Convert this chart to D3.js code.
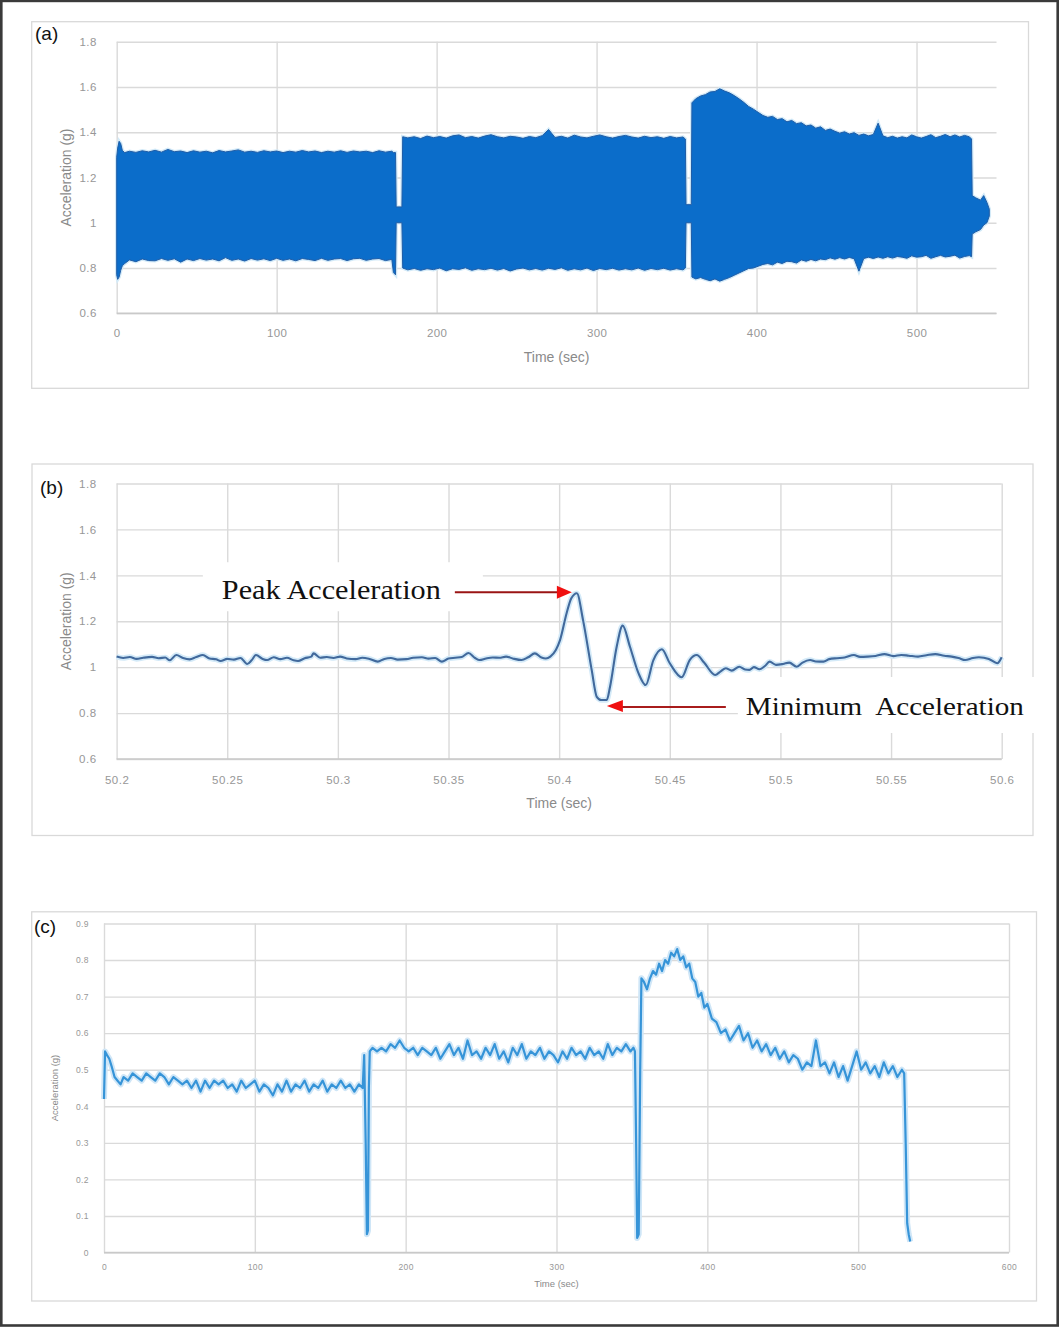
<!DOCTYPE html>
<html>
<head>
<meta charset="utf-8">
<script src="https://cdn.jsdelivr.net/npm/d3@7"></script>
<style>
  body { margin: 0; background: #fff; }
  svg { display: block; }
</style>
</head>
<body>
<div id="chart"></div>
<script>
const width = 1059, height = 1327;

// ---------- (a) envelope of the raw signal (upper / lower edge of the band) ----------
const aTime = [0, 0.6, 1.5, 2.5, 3.5, 5,
  8, 12, 16, 20, 24, 28, 32, 36, 40, 44, 48, 52, 56, 60, 64, 68, 72, 76, 80, 84, 88, 92, 96, 100,
  104, 108, 112, 116, 120, 124, 128, 132, 136, 140, 144, 148, 152, 156, 160, 164, 168, 172,
  173, 174.3, 174.7, 178.3, 178.8,
  182, 186, 190, 194, 198, 202, 206, 210, 214, 218, 222, 226, 230, 234, 238, 242, 246, 250, 254, 258,
  262, 266, 270, 274, 278, 282, 286, 290, 294, 298, 302, 306, 310, 314, 318, 322, 326, 330, 334, 338,
  342, 346, 350, 354,
  355.5, 355.9, 359.2, 359.6,
  362, 365, 368, 371, 374, 377, 380, 383, 386, 389, 392, 395, 398, 401, 404, 407, 410, 413, 416, 419,
  422, 425, 428, 431, 434, 437, 440, 443, 446, 449, 452, 455, 458, 461, 464, 467, 470, 473, 476, 479,
  482, 485, 488, 491, 494, 497, 500, 503, 506, 509, 512, 515, 518, 521, 524, 527, 530, 533,
  534.4, 534.8, 537, 540, 542, 544, 545.5];
const aHigh = [1.29, 1.33, 1.36, 1.35, 1.32, 1.31,
  1.316, 1.311, 1.318, 1.313, 1.320, 1.312, 1.324, 1.314, 1.317, 1.310, 1.318, 1.312, 1.316, 1.309,
  1.319, 1.313, 1.317, 1.322, 1.312, 1.316, 1.311, 1.318, 1.313, 1.317, 1.310, 1.316, 1.312, 1.319,
  1.313, 1.317, 1.310, 1.316, 1.312, 1.318, 1.311, 1.317, 1.313, 1.316, 1.310, 1.318, 1.312, 1.316,
  1.31, 1.31, 1.07, 1.07, 1.38,
  1.375, 1.380, 1.372, 1.383, 1.376, 1.381, 1.374, 1.384, 1.388, 1.376, 1.381, 1.374, 1.383, 1.389,
  1.380, 1.375, 1.382, 1.379, 1.373, 1.381, 1.376, 1.385, 1.412, 1.377, 1.382, 1.374, 1.387, 1.379,
  1.375, 1.382, 1.388, 1.380, 1.374, 1.381, 1.386, 1.379, 1.374, 1.382, 1.376, 1.380, 1.373, 1.381,
  1.375, 1.379,
  1.37, 1.08, 1.08, 1.53,
  1.548, 1.560, 1.566, 1.578, 1.580, 1.592, 1.582, 1.574, 1.562, 1.548, 1.532, 1.514, 1.502, 1.488,
  1.474, 1.466, 1.470, 1.456, 1.460, 1.446, 1.452, 1.438, 1.442, 1.428, 1.432, 1.418, 1.424, 1.408,
  1.414, 1.404, 1.396, 1.402, 1.392, 1.398, 1.386, 1.392, 1.384, 1.390, 1.440, 1.384, 1.376, 1.382,
  1.374, 1.380, 1.375, 1.388, 1.380, 1.374, 1.381, 1.389, 1.376, 1.382, 1.390, 1.380, 1.388, 1.379,
  1.386, 1.380,
  1.37, 1.12, 1.11, 1.10, 1.12, 1.09, 1.06];
const aLow = [0.77, 0.75, 0.76, 0.79, 0.81, 0.82,
  0.836, 0.828, 0.840, 0.833, 0.832, 0.842, 0.834, 0.841, 0.826, 0.840, 0.833, 0.842, 0.835, 0.840,
  0.832, 0.846, 0.834, 0.840, 0.831, 0.842, 0.835, 0.841, 0.833, 0.843, 0.834, 0.840, 0.832, 0.842,
  0.838, 0.833, 0.843, 0.834, 0.840, 0.842, 0.833, 0.841, 0.843, 0.834, 0.840, 0.842, 0.833, 0.838,
  0.78, 0.77, 1.00, 1.00, 0.80,
  0.792, 0.798, 0.790, 0.797, 0.793, 0.800, 0.788, 0.797, 0.794, 0.801, 0.790, 0.797, 0.793, 0.799,
  0.791, 0.798, 0.787, 0.796, 0.800, 0.792, 0.798, 0.791, 0.799, 0.794, 0.801, 0.790, 0.797, 0.792,
  0.800, 0.789, 0.798, 0.793, 0.799, 0.791, 0.797, 0.792, 0.800, 0.790, 0.798, 0.793, 0.799, 0.791,
  0.797, 0.792,
  0.80, 1.00, 1.00, 0.76,
  0.752, 0.758, 0.750, 0.744, 0.752, 0.742, 0.750, 0.758, 0.768, 0.778, 0.788, 0.798, 0.800, 0.808,
  0.816, 0.820, 0.814, 0.826, 0.820, 0.830, 0.828, 0.822, 0.836, 0.830, 0.838, 0.832, 0.840, 0.837,
  0.845, 0.839, 0.846, 0.840, 0.847, 0.841, 0.786, 0.842, 0.848, 0.842, 0.849, 0.843, 0.850, 0.844,
  0.851, 0.848, 0.843, 0.854, 0.848, 0.850, 0.856, 0.843, 0.850, 0.856, 0.849, 0.852, 0.857, 0.844,
  0.851, 0.855,
  0.85, 0.95, 0.96, 0.97, 0.99, 1.00, 1.03];
const aXTicks = [0, 100, 200, 300, 400, 500];
const aYTicks = [0.6, 0.8, 1, 1.2, 1.4, 1.6, 1.8];

// ---------- (b) zoom on one impact ----------
const bTime = [50.200, 50.203, 50.206, 50.209, 50.212, 50.216, 50.219, 50.222, 50.224, 50.227, 50.230, 50.233, 50.236,
  50.239, 50.242, 50.245, 50.247, 50.250, 50.253, 50.256, 50.259, 50.261, 50.263, 50.266, 50.268, 50.271, 50.274,
  50.277, 50.280, 50.282, 50.285, 50.288, 50.289, 50.292, 50.295, 50.298, 50.301, 50.304, 50.308, 50.311, 50.314,
  50.318, 50.321, 50.324, 50.327, 50.331, 50.334, 50.338, 50.341, 50.344, 50.347, 50.350, 50.353, 50.356, 50.359,
  50.362, 50.364, 50.367, 50.370, 50.373, 50.376, 50.379, 50.383, 50.386, 50.389, 50.392, 50.394, 50.396,
  50.3985, 50.4004, 50.4034, 50.4055, 50.408, 50.4108, 50.4147, 50.417, 50.419, 50.4215, 50.423, 50.426, 50.4287,
  50.432, 50.4358, 50.4391, 50.4426, 50.4464, 50.450, 50.4554, 50.459, 50.4622, 50.4655, 50.4705,
  50.473, 50.4753, 50.478, 50.4814, 50.484, 50.486, 50.488, 50.4905, 50.493, 50.4951, 50.498, 50.5012, 50.504,
  50.5073, 50.510, 50.5134, 50.516, 50.5195, 50.522, 50.5256, 50.529, 50.5332, 50.536, 50.5393, 50.543, 50.547,
  50.551, 50.5546, 50.558, 50.5622, 50.566, 50.570, 50.574, 50.5774, 50.5805, 50.5835, 50.587, 50.5897, 50.5942,
  50.598, 50.600];
const bAccel = [1.046, 1.040, 1.044, 1.036, 1.041, 1.045, 1.039, 1.042, 1.030, 1.053, 1.040, 1.034, 1.044,
  1.053, 1.038, 1.034, 1.027, 1.036, 1.033, 1.040, 1.014, 1.030, 1.053, 1.036, 1.031, 1.043, 1.035,
  1.041, 1.030, 1.027, 1.039, 1.046, 1.060, 1.041, 1.044, 1.040, 1.046, 1.038, 1.035, 1.041, 1.037,
  1.024, 1.036, 1.040, 1.033, 1.035, 1.041, 1.043, 1.037, 1.040, 1.024, 1.038, 1.041, 1.044, 1.062,
  1.040, 1.031, 1.038, 1.042, 1.041, 1.046, 1.038, 1.031, 1.043, 1.060, 1.042, 1.038, 1.046,
  1.075, 1.118, 1.236, 1.300, 1.322, 1.205, 0.988, 0.871, 0.857, 0.857, 0.915, 1.089, 1.181,
  1.089, 0.975, 0.922, 1.031, 1.078, 1.017, 0.956, 1.031, 1.053, 1.020, 0.966,
  0.982, 0.995, 0.985, 1.002, 0.990, 0.988, 1.000, 0.991, 1.005, 1.024, 1.010, 1.014, 1.020,
  1.002, 1.020, 1.031, 1.025, 1.024, 1.035, 1.039, 1.042, 1.053, 1.045, 1.046, 1.049, 1.057,
  1.048, 1.053, 1.050, 1.046, 1.052, 1.057, 1.050, 1.046, 1.040, 1.031, 1.040, 1.043, 1.036,
  1.017, 1.043];
const bXTicks = [50.2, 50.25, 50.3, 50.35, 50.4, 50.45, 50.5, 50.55, 50.6];
const bYTicks = [0.6, 0.8, 1, 1.2, 1.4, 1.6, 1.8];
const bNotes = [
  { label: "Peak Acceleration", t: 50.408, v: 1.322, side: "left" },
  { label: "Minimum  Acceleration", t: 50.4202, v: 0.857, side: "right" }
];

// ---------- (c) processed signal ----------
const cTime = [0, 0.7, 2, 3.5, 5, 7, 9, 11,
  13, 16, 19, 22, 25, 28, 31, 34, 37, 40, 43, 46, 49, 52, 55, 58, 61, 64, 67, 70,
  73, 76, 79, 82, 85, 88, 91, 94, 97, 100, 103, 106, 109, 112, 115, 118, 121, 124, 127, 130,
  133, 136, 139, 142, 145, 148, 151, 154, 157, 160, 163, 166, 169,
  171.5, 172.5, 173.5, 174.3, 175, 175.6, 176.2,
  178, 181, 184, 187, 190, 193, 196, 199, 202, 205, 208, 211, 214, 217, 220, 223, 226, 229, 232, 235,
  238, 241, 244, 247, 250, 253, 256, 259, 262, 265, 268, 271, 274, 277, 280, 283, 286, 289, 292, 295,
  298, 301, 304, 307, 310, 313, 316, 319, 322, 325, 328, 331, 334, 337, 340, 343, 346, 349,
  351, 352, 352.8, 353.5, 354.5, 355.5, 356.3,
  358, 360, 362, 364, 366, 368, 370, 372, 374, 376, 378, 380, 382, 384, 386, 388, 390, 392, 394, 396, 398, 400,
  403, 406, 409, 412, 415, 418, 421, 424, 427, 430, 433, 436, 439, 442, 445, 448, 451, 454, 457, 460,
  463, 466, 469, 472, 475, 478, 481, 484, 487, 490, 493, 496, 499, 502, 505, 508, 511, 514, 517, 520,
  523, 526, 529,
  530.5, 531.5, 532.5, 533.5, 534.5];
const cAccel = [0.42, 0.55, 0.54, 0.53, 0.51, 0.48, 0.47, 0.46,
  0.48, 0.47, 0.49, 0.48, 0.47, 0.49, 0.48, 0.47, 0.49, 0.48, 0.46, 0.48, 0.47, 0.46, 0.47, 0.45, 0.47, 0.44, 0.47, 0.45,
  0.47, 0.46, 0.47, 0.45, 0.46, 0.44, 0.47, 0.45, 0.46, 0.47, 0.44, 0.46, 0.45, 0.43, 0.46, 0.44, 0.47, 0.44, 0.46, 0.45,
  0.47, 0.44, 0.46, 0.45, 0.47, 0.44, 0.46, 0.45, 0.47, 0.45, 0.46, 0.44, 0.46,
  0.45, 0.54, 0.30, 0.05, 0.06, 0.45, 0.55,
  0.56, 0.55, 0.56, 0.55, 0.57, 0.56, 0.58, 0.56, 0.55, 0.56, 0.54, 0.56, 0.55, 0.54, 0.56, 0.53, 0.55, 0.57, 0.54, 0.56,
  0.53, 0.58, 0.54, 0.55, 0.53, 0.56, 0.54, 0.57, 0.53, 0.55, 0.52, 0.56, 0.54, 0.57, 0.53, 0.55, 0.54, 0.56, 0.53, 0.55,
  0.54, 0.52, 0.55, 0.53, 0.56, 0.54, 0.55, 0.53, 0.56, 0.54, 0.55, 0.53, 0.57, 0.54, 0.56, 0.55, 0.57, 0.55,
  0.56, 0.55, 0.30, 0.04, 0.05, 0.50, 0.75,
  0.74, 0.72, 0.75, 0.77, 0.76, 0.79, 0.77, 0.80, 0.79, 0.82, 0.81, 0.83, 0.80, 0.81, 0.78, 0.79, 0.75, 0.74, 0.70, 0.71, 0.67, 0.68,
  0.64, 0.63, 0.60, 0.61, 0.58, 0.60, 0.62, 0.58, 0.60, 0.56, 0.58, 0.55, 0.57, 0.54, 0.56, 0.53, 0.55, 0.52, 0.54, 0.53,
  0.50, 0.52, 0.51, 0.58, 0.51, 0.52, 0.49, 0.52, 0.48, 0.51, 0.47, 0.51, 0.55, 0.50, 0.52, 0.49, 0.51, 0.48, 0.52, 0.49,
  0.51, 0.48, 0.50,
  0.49, 0.30, 0.08, 0.05, 0.03];
const cXTicks = [0, 100, 200, 300, 400, 500, 600];
const cYTicks = [0, 0.1, 0.2, 0.3, 0.4, 0.5, 0.6, 0.7, 0.8, 0.9];

// ---------- drawing ----------
const svg = d3.select("#chart").append("svg")
    .attr("width", width)
    .attr("height", height);

svg.append("rect")
    .attr("x", 1.3).attr("y", 0.9)
    .attr("width", 1056.4).attr("height", 1324.6)
    .attr("fill", "#fff")
    .attr("stroke", "#3a3a3a")
    .attr("stroke-width", 2.6);

const fmt = d => String(+d.toFixed(2));
const sans = "'Liberation Sans', Arial, sans-serif";

function drawPanel(p) {
    const g = svg.append("g");

    g.append("rect")
        .attr("x", p.box[0]).attr("y", p.box[1])
        .attr("width", p.box[2] - p.box[0]).attr("height", p.box[3] - p.box[1])
        .attr("fill", "#fff")
        .attr("stroke", "#d9d9d9")
        .attr("stroke-width", 1.3);

    const x = d3.scaleLinear().domain(p.xDomain).range([p.left, p.right]);
    const y = d3.scaleLinear().domain(p.yDomain).range([p.bottom, p.top]);

    // horizontal grid + y labels
    g.append("g")
        .attr("transform", `translate(${p.left},0)`)
        .call(d3.axisLeft(y).tickValues(p.yTicks).tickSize(-(p.right - p.left)).tickPadding(p.yPad).tickFormat(fmt))
        .call(ax => ax.select(".domain").remove())
        .call(ax => ax.selectAll(".tick line").attr("stroke", "#dadada").attr("stroke-width", 1.4))
        .call(ax => ax.selectAll(".tick text")
            .attr("fill", "#979797")
            .style("font-family", sans)
            .style("font-size", p.tickFont + "px")
            .style("letter-spacing", p.tickSpacing + "px"));

    // vertical grid + x labels
    g.append("g")
        .attr("transform", `translate(0,${p.bottom})`)
        .call(d3.axisBottom(x).tickValues(p.xTicks).tickSize(-(p.bottom - p.top)).tickPadding(p.xPad).tickFormat(fmt))
        .call(ax => ax.select(".domain").remove())
        .call(ax => ax.selectAll(".tick line").attr("stroke", "#dadada").attr("stroke-width", 1.4))
        .call(ax => ax.selectAll(".tick text")
            .attr("fill", "#979797")
            .style("font-family", sans)
            .style("font-size", p.tickFont + "px")
            .style("letter-spacing", p.tickSpacing + "px"));

    // base axis line
    g.append("line")
        .attr("x1", p.left).attr("x2", p.right)
        .attr("y1", p.bottom).attr("y2", p.bottom)
        .attr("stroke", "#c9c9c9")
        .attr("stroke-width", 1.6);

    // axis titles
    g.append("text")
        .attr("x", (p.left + p.right) / 2)
        .attr("y", p.xTitleY)
        .attr("text-anchor", "middle")
        .attr("fill", "#8a8a8a")
        .style("font-family", sans)
        .style("font-size", p.titleFont + "px")
        .text("Time (sec)");

    g.append("text")
        .attr("transform", `translate(${p.yTitleX},${(p.top + p.bottom) / 2}) rotate(-90)`)
        .attr("text-anchor", "middle")
        .attr("fill", "#8a8a8a")
        .style("font-family", sans)
        .style("font-size", p.titleFont + "px")
        .text("Acceleration (g)");

    // panel letter
    g.append("text")
        .attr("x", p.letterPos[0])
        .attr("y", p.letterPos[1])
        .attr("fill", "#111")
        .style("font-family", sans)
        .style("font-size", "19px")
        .text(p.letter);

    return { g, x, y };
}

// (a)
const A = drawPanel({
    box: [31.7, 21.7, 1028.5, 388.3],
    left: 116.7, right: 996.5, top: 41.7, bottom: 313.3,
    xDomain: [0, 550], yDomain: [0.6, 1.8],
    xTicks: aXTicks, yTicks: aYTicks,
    xPad: 16, yPad: 20, tickFont: 11.5, tickSpacing: 0.4,
    titleFont: 14, xTitleY: 362, yTitleX: 71,
    letter: "(a)", letterPos: [35, 40]
});

const aData = aTime.map((t, i) => ({ t, hi: aHigh[i], lo: aLow[i] }));
const aArea = d3.area()
    .x(d => A.x(d.t))
    .y0(d => A.y(d.lo))
    .y1(d => A.y(d.hi));

A.g.append("path")   // light halo round the band
    .datum(aData)
    .attr("d", aArea)
    .attr("fill", "#0b6dca")
    .attr("stroke", "#d3eaf8")
    .attr("stroke-width", 3.5);

A.g.append("path")
    .datum(aData)
    .attr("d", aArea)
    .attr("fill", "#0b6dca")
    .attr("stroke", "#1f5ca6")
    .attr("stroke-width", 1);

// (b)
const B = drawPanel({
    box: [32, 464, 1033, 835.5],
    left: 116.6, right: 1001.7, top: 483.5, bottom: 759,
    xDomain: [50.2, 50.6], yDomain: [0.6, 1.8],
    xTicks: bXTicks, yTicks: bYTicks,
    xPad: 17, yPad: 20, tickFont: 11.5, tickSpacing: 0.5,
    titleFont: 14, xTitleY: 808, yTitleX: 71,
    letter: "(b)", letterPos: [40, 494]
});

const bData = bTime.map((t, i) => ({ t, v: bAccel[i] }));
const bLine = d3.line()
    .x(d => B.x(d.t))
    .y(d => B.y(d.v))
    .curve(d3.curveMonotoneX);

B.g.append("path")
    .datum(bData)
    .attr("d", bLine)
    .attr("fill", "none")
    .attr("stroke", "#d4eaf8")
    .attr("stroke-width", 5.5)
    .attr("stroke-linejoin", "round");

B.g.append("path")
    .datum(bData)
    .attr("d", bLine)
    .attr("fill", "none")
    .attr("stroke", "#41699c")
    .attr("stroke-width", 2.1)
    .attr("stroke-linejoin", "round");

// annotations with arrows
bNotes.forEach(n => {
    const px = B.x(n.t), py = B.y(n.v);
    const serif = "'Liberation Serif', 'Times New Roman', serif";
    if (n.side === "left") {
        const tipX = px - 5, tipY = py - 1;
        B.g.append("rect")
            .attr("x", tipX - 369).attr("y", tipY - 30)
            .attr("width", 280).attr("height", 49)
            .attr("fill", "#fff");
        B.g.append("text")
            .attr("x", tipX - 131).attr("y", tipY + 7)
            .attr("text-anchor", "end")
            .attr("fill", "#111")
            .attr("textLength", 219)
            .attr("lengthAdjust", "spacingAndGlyphs")
            .style("font-family", serif)
            .style("font-size", "27px")
            .text(n.label);
        B.g.append("line")
            .attr("x1", tipX - 117).attr("x2", tipX - 14)
            .attr("y1", tipY).attr("y2", tipY)
            .attr("stroke", "#9a1414")
            .attr("stroke-width", 2);
        B.g.append("path")
            .attr("d", `M${tipX},${tipY} L${tipX - 15},${tipY - 6.5} L${tipX - 15},${tipY + 6.5} Z`)
            .attr("fill", "#f01010");
    } else {
        const tipX = px + 3, tipY = py + 6;
        B.g.append("rect")
            .attr("x", tipX + 131).attr("y", tipY - 29)
            .attr("width", 305).attr("height", 56)
            .attr("fill", "#fff");
        B.g.append("text")
            .attr("x", tipX + 139).attr("y", tipY + 9)
            .attr("fill", "#111")
            .attr("textLength", 278)
            .attr("lengthAdjust", "spacingAndGlyphs")
            .style("white-space", "pre")
            .style("font-family", serif)
            .style("font-size", "26px")
            .text(n.label);
        B.g.append("line")
            .attr("x1", tipX + 14).attr("x2", tipX + 119)
            .attr("y1", tipY + 1).attr("y2", tipY + 1)
            .attr("stroke", "#a81c1c")
            .attr("stroke-width", 2);
        B.g.append("path")
            .attr("d", `M${tipX},${tipY} L${tipX + 16},${tipY - 6} L${tipX + 16},${tipY + 6} Z`)
            .attr("fill", "#f01010");
    }
});

// (c)
const C = drawPanel({
    box: [31.7, 911.8, 1036.5, 1301],
    left: 104, right: 1009, top: 923.5, bottom: 1252.5,
    xDomain: [0, 600], yDomain: [0, 0.9],
    xTicks: cXTicks, yTicks: cYTicks,
    xPad: 11, yPad: 15, tickFont: 8.5, tickSpacing: 0.4,
    titleFont: 9.5, xTitleY: 1287, yTitleX: 58,
    letter: "(c)", letterPos: [34, 933]
});

const cData = cTime.map((t, i) => ({ t, v: cAccel[i] }));
const cLine = d3.line()
    .x(d => C.x(d.t))
    .y(d => C.y(d.v));

C.g.append("path")
    .datum(cData)
    .attr("d", cLine)
    .attr("fill", "none")
    .attr("stroke", "#cfe6f7")
    .attr("stroke-width", 6)
    .attr("stroke-linejoin", "round");

C.g.append("path")
    .datum(cData)
    .attr("d", cLine)
    .attr("fill", "none")
    .attr("stroke", "#3694d8")
    .attr("stroke-width", 2.2)
    .attr("stroke-linejoin", "round");
</script>
</body>
</html>
